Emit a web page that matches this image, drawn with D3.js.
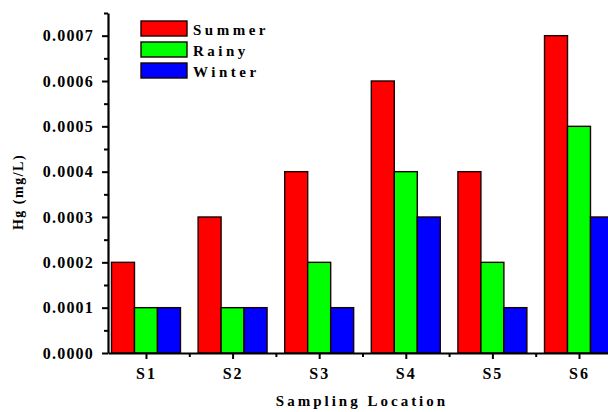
<!DOCTYPE html>
<html>
<head>
<meta charset="utf-8">
<script src="https://cdn.jsdelivr.net/npm/d3@7"></script>
<style>
  body { margin: 0; background: #fff; }
</style>
</head>
<body>
<div id="chart"></div>
<script>
const locations = ["S1", "S2", "S3", "S4", "S5", "S6"];
const seasons = ["Summer", "Rainy", "Winter"];
const summer = [0.0002, 0.0003, 0.0004, 0.0006, 0.0004, 0.0007];
const rainy  = [0.0001, 0.0001, 0.0002, 0.0004, 0.0002, 0.0005];
const winter = [0.0001, 0.0001, 0.0001, 0.0003, 0.0001, 0.0003];
const yTicks = [0, 0.0001, 0.0002, 0.0003, 0.0004, 0.0005, 0.0006, 0.0007];
const colors = ["#ff0000", "#00ff00", "#0000ff"];

const W = 608, H = 412;
const plotLeft = 108, plotTop = 13, plotBottom = 353;
const serif = "'Liberation Serif', 'Times New Roman', Times, serif";

const svg = d3.select("#chart")
  .append("svg")
    .attr("width", W)
    .attr("height", H)
    .style("font-family", serif)
    .style("font-weight", "bold");

// group positions are 1..6 on a linear axis, like the original software
const x = d3.scaleLinear()
  .domain([0.5615, 6.5])
  .range([plotLeft, 622.3]);

const y = d3.scaleLinear()
  .domain([0, 0.00075])
  .range([plotBottom, plotTop]);

const barW = 0.2654;   // in x units

const series = [summer, rainy, winter];
const bars = [];
series.forEach((vals, j) => {
  vals.forEach((v, i) => {
    bars.push({ loc: i + 1, season: j, value: v });
  });
});

svg.selectAll("rect.bar")
  .data(bars)
  .enter()
  .append("rect")
    .attr("class", "bar")
    .attr("x", d => x(d.loc + (d.season - 1.5) * barW))
    .attr("y", d => y(d.value))
    .attr("width", d => x(d.loc + (d.season - 0.5) * barW) - x(d.loc + (d.season - 1.5) * barW))
    .attr("height", d => y(0) - y(d.value))
    .attr("fill", d => colors[d.season])
    .attr("stroke", "#1a0000")
    .attr("stroke-width", 1.4);

// y axis: major + minor ticks
const yMinor = d3.range(0.00005, 0.00076, 0.0001);

svg.append("g")
  .attr("transform", `translate(${plotLeft},0)`)
  .call(d3.axisLeft(y).tickValues(yMinor).tickSize(4).tickFormat(""))
  .call(g => g.select(".domain").remove())
  .selectAll("line").attr("stroke-width", 2);

const yAxis = svg.append("g")
  .attr("transform", `translate(${plotLeft},0)`)
  .call(d3.axisLeft(y).tickValues(yTicks).tickSize(6).tickSizeOuter(0).tickPadding(8)
    .tickFormat(d3.format(".4f")));

yAxis.attr("font-family", null);
yAxis.select(".domain").attr("stroke-width", 2.2);
yAxis.selectAll("line").attr("stroke-width", 2);
yAxis.selectAll("text")
  .attr("font-size", 16)
  .attr("letter-spacing", 1.2)
  .attr("fill", "#000");

// x axis
const xMinor = d3.range(1.5, 6.5, 1);

svg.append("g")
  .attr("transform", `translate(0,${plotBottom})`)
  .call(d3.axisBottom(x).tickValues(xMinor).tickSize(4).tickFormat(""))
  .call(g => g.select(".domain").remove())
  .selectAll("line").attr("stroke-width", 2);

const xAxis = svg.append("g")
  .attr("transform", `translate(0,${plotBottom})`)
  .call(d3.axisBottom(x).tickValues(d3.range(1, 7)).tickSize(6).tickSizeOuter(0).tickPadding(9)
    .tickFormat(d => locations[d - 1]));

xAxis.attr("font-family", null);
xAxis.select(".domain").attr("stroke-width", 2.2);
xAxis.selectAll("line").attr("stroke-width", 2);
xAxis.selectAll("text")
  .attr("font-size", 16)
  .attr("letter-spacing", 2)
  .attr("fill", "#000");

// axis titles
svg.append("text")
  .attr("x", 362)
  .attr("y", 406)
  .attr("text-anchor", "middle")
  .attr("font-size", 15)
  .attr("letter-spacing", 3)
  .text("Sampling Location");

svg.append("text")
  .attr("transform", "rotate(-90)")
  .attr("x", -192)
  .attr("y", 23)
  .attr("text-anchor", "middle")
  .attr("font-size", 14)
  .attr("letter-spacing", 1.5)
  .text("Hg (mg/L)");

// legend
const legend = svg.append("g")
  .attr("transform", "translate(141,21)");

seasons.forEach((s, i) => {
  legend.append("rect")
    .attr("x", 0)
    .attr("y", i * 21)
    .attr("width", 46)
    .attr("height", 15)
    .attr("fill", colors[i])
    .attr("stroke", "#1a0000")
    .attr("stroke-width", 1.4);

  legend.append("text")
    .attr("x", 52)
    .attr("y", i * 21 + 13.5)
    .attr("font-size", 15)
    .attr("letter-spacing", 3.5)
    .text(s);
});
</script>
</body>
</html>
